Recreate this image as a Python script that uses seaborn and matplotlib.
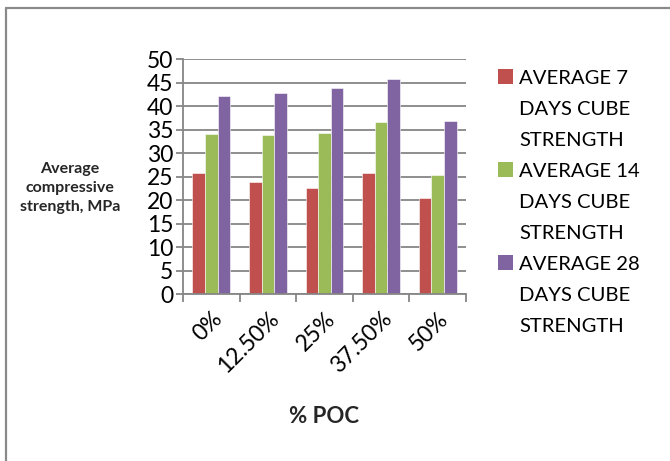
import matplotlib
matplotlib.use("Agg")
import matplotlib.pyplot as plt
from matplotlib.lines import Line2D
from matplotlib.patches import Rectangle
import seaborn as sns
import pandas as pd

# Compressive strength by POC replacement level
categories = ["0%", "12.50%", "25%", "37.50%", "50%"]
series_names = [
    "AVERAGE 7 DAYS CUBE STRENGTH",
    "AVERAGE 14 DAYS CUBE STRENGTH",
    "AVERAGE 28 DAYS CUBE STRENGTH",
]
legend_lines = [
    ["AVERAGE 7", "DAYS CUBE", "STRENGTH"],
    ["AVERAGE 14", "DAYS CUBE", "STRENGTH"],
    ["AVERAGE 28", "DAYS CUBE", "STRENGTH"],
]
avg_7_days = [25.8, 23.8, 22.6, 25.7, 20.5]
avg_14_days = [34.1, 33.9, 34.2, 36.7, 25.4]
avg_28_days = [42.2, 42.8, 43.9, 45.7, 36.9]
y_ticks = [0, 5, 10, 15, 20, 25, 30, 35, 40, 45, 50]

colors = ["#C0504D", "#9BBB59", "#8064A2"]
grid_gray = "#868686"

rows = []
for name, vals in zip(series_names, [avg_7_days, avg_14_days, avg_28_days]):
    for cat, v in zip(categories, vals):
        rows.append({"POC": cat, "series": name, "strength": v})
df = pd.DataFrame(rows)

sns.set_theme(style="white")
plt.rcParams["font.family"] = ["Lato", "DejaVu Sans"]

W, H = 670, 461
fig = plt.figure(figsize=(W / 100, H / 100), dpi=100)
ax = fig.add_axes([0.273, 0.362, 0.4225, 0.510])

sns.barplot(
    data=df, x="POC", y="strength", hue="series",
    order=categories, hue_order=series_names,
    palette=colors, width=2 / 3, saturation=1,
    edgecolor="white", linewidth=0.4, ax=ax, legend=False,
)

ax.set_xlim(-0.5, len(categories) - 0.5)
ax.set_ylim(0, 50)
ax.set_yticks(y_ticks)
ax.set_yticklabels([str(t) for t in y_ticks], fontsize=16.5, color="black")
ax.yaxis.grid(True, color=grid_gray, linewidth=1.3)
ax.set_axisbelow(True)

for side in ["top", "right"]:
    ax.spines[side].set_visible(False)
for side in ["left", "bottom"]:
    ax.spines[side].set_color(grid_gray)
    ax.spines[side].set_linewidth(1.3)

ax.tick_params(axis="y", which="major", left=True, length=5, width=1.3,
               color=grid_gray, pad=2)
# category boundary ticks on the x axis
ax.set_xticks([i - 0.5 for i in range(len(categories) + 1)], minor=True)
ax.tick_params(axis="x", which="minor", bottom=True, length=6, width=1.3,
               color=grid_gray)
ax.tick_params(axis="x", which="major", bottom=False, pad=4)
ax.set_xticks(range(len(categories)))
ax.set_xticklabels(categories, rotation=45, ha="right",
                   rotation_mode="anchor", fontsize=16.5, color="black")

ax.set_xlabel("% POC", fontsize=16, fontweight="bold", labelpad=21)
ax.set_ylabel("")
fig.text(70 / W, 1 - 188 / H, "Average\ncompressive\nstrength, MPa",
         ha="center", va="center", fontsize=11.5, fontweight="bold",
         linespacing=1.45)

# legend: colour square beside the first line of each wrapped entry
pitch = 31
for i, (c, lines) in enumerate(zip(colors, legend_lines)):
    top = 69 + 3 * pitch * i
    fig.add_artist(Rectangle((498 / W, 1 - (top + 15) / H), 15 / W, 15 / H,
                             facecolor=c, edgecolor="none",
                             transform=fig.transFigure))
    for j, line in enumerate(lines):
        base = 84 + (3 * i + j) * pitch
        fig.text(519 / W, 1 - base / H, line, ha="left", va="baseline",
                 fontsize=14.6, color="black")

# chart border
fig.add_artist(Line2D([0.0097, 0.0097], [0, 0.9826], color="#8a8a8a",
                      linewidth=1.6, transform=fig.transFigure))
fig.add_artist(Line2D([0.0097, 1.0], [0.9826, 0.9826], color="#8a8a8a",
                      linewidth=1.6, transform=fig.transFigure))

fig.savefig("out.png", dpi=100, facecolor="white")
